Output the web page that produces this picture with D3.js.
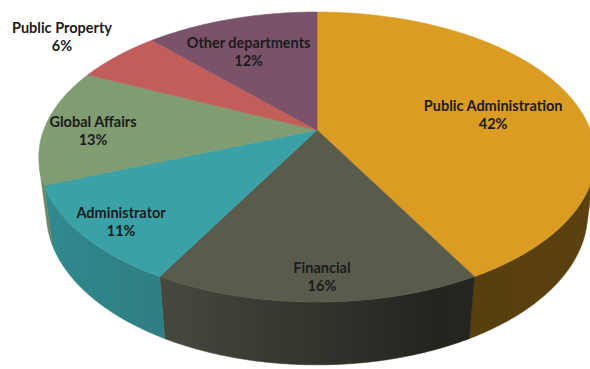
<!DOCTYPE html>
<html>
<head>
<meta charset="utf-8">
<script src="https://cdn.jsdelivr.net/npm/d3@7"></script>
<style>
  html, body { margin: 0; padding: 0; background: #ffffff; }
  svg { display: block; }
  text { font-family: "Lato", "Open Sans", sans-serif; font-weight: bold; }
</style>
</head>
<body>
<svg id="chart" width="590" height="369"></svg>
<script>
// Department shares (percent)
const categories = ["Public Administration", "Financial", "Administrator", "Global Affairs", "Public Property", "Other departments"];
const values = [42, 16, 11, 13, 6, 12];
const pctLabels = ["42%", "16%", "11%", "13%", "6%", "12%"];
const topColors = ["#DA9C22", "#595B4D", "#3AA1A7", "#7F9C72", "#C15E59", "#7A5369"];

// Label placement on the disc: radius (fraction of disc radius) and small turn in degrees
const labelRadius = [0.67, 0.87, 0.86, 0.82, 1.32, 0.70];
const labelTurn = [4, -1, -0.5, -1.5, 0, -2];

const W = 590, H = 369;
const svg = d3.select("#chart");

// Perspective camera looking down at a flat cylinder of radius 1
const elev = 30.8 * Math.PI / 180;
const sE = Math.sin(elev), cE = Math.cos(elev);
const camDist = 4.61, focal = 1260, thick = 0.245;
const cx = 317, cy = 130;

function project(X, Y, Z) {
  const depth = camDist - Y * sE - Z * cE;
  const up = Y * cE - Z * sE;
  return [cx + focal * X / depth, cy - focal * up / depth];
}
// point on the rim at pie angle a (clockwise from the back), radius r, height y
function rim(a, r, y) {
  return project(r * Math.sin(a), y, -r * Math.cos(a));
}

const pie = d3.pie().sort(null).value(d => d)(values);

// Visible part of the outer wall (faces the camera)
const zMin = 1 / (camDist * cE);
const aMin = Math.acos(-zMin), aMax = 2 * Math.PI - aMin;

// Wall shading by angle (lit from the front-left)
const deg = Math.PI / 180;
const shade = d3.scaleLinear()
  .domain([aMin, 160 * deg, 205 * deg, aMax])
  .range([0.42, 0.40, 0.78, 0.88])
  .clamp(true);
function shaded(col, k) {
  const c = d3.rgb(col);
  return d3.rgb(c.r * k, c.g * k, c.b * k).formatHex();
}

function samples(a0, a1) {
  const n = Math.max(2, Math.ceil((a1 - a0) / (0.5 * deg)));
  return d3.range(n + 1).map(i => a0 + (a1 - a0) * i / n);
}

const line = d3.line();
const defs = svg.append("defs");
const gWalls = svg.append("g");
const gTops = svg.append("g");
const gLabels = svg.append("g");

pie.forEach((p, i) => {
  const a0 = Math.max(p.startAngle, aMin), a1 = Math.min(p.endAngle, aMax);
  if (a1 <= a0) return;
  const angs = samples(a0, a1);
  const topPts = angs.map(a => rim(a, 1, 0));
  const botPts = angs.map(a => rim(a, 1, -thick)).reverse();

  const x1 = topPts[0][0], x2 = topPts[topPts.length - 1][0];
  const grad = defs.append("linearGradient")
    .attr("id", "wall" + i)
    .attr("gradientUnits", "userSpaceOnUse")
    .attr("x1", x1).attr("y1", 0).attr("x2", x2).attr("y2", 0);
  samples(a0, a1).filter((_, j, arr) => j % 4 === 0 || j === arr.length - 1).forEach(a => {
    const x = rim(a, 1, 0)[0];
    grad.append("stop")
      .attr("offset", (x - x1) / (x2 - x1))
      .attr("stop-color", shaded(topColors[i], shade(a)));
  });

  gWalls.append("path")
    .attr("d", line(topPts.concat(botPts)) + "Z")
    .attr("fill", "url(#wall" + i + ")")
    .attr("stroke", "url(#wall" + i + ")")
    .attr("stroke-width", 0.6);
});

pie.forEach((p, i) => {
  const pts = [project(0, 0, 0)].concat(samples(p.startAngle, p.endAngle).map(a => rim(a, 1, 0)));
  gTops.append("path")
    .attr("d", line(pts) + "Z")
    .attr("fill", topColors[i])
    .attr("stroke", topColors[i])
    .attr("stroke-width", 0.6)
    .attr("stroke-linejoin", "round");
});

pie.forEach((p, i) => {
  const mid = (p.startAngle + p.endAngle) / 2 + labelTurn[i] * deg;
  const [lx, ly] = rim(mid, labelRadius[i], 0);
  const t = gLabels.append("text")
    .attr("text-anchor", "middle")
    .attr("fill", "#1b1b1b")
    .attr("font-size", 14.5);
  t.append("tspan").attr("x", lx).attr("y", ly - 2).text(categories[i]);
  t.append("tspan").attr("x", lx).attr("y", ly + 16).text(pctLabels[i]);
});
</script>
</body>
</html>
